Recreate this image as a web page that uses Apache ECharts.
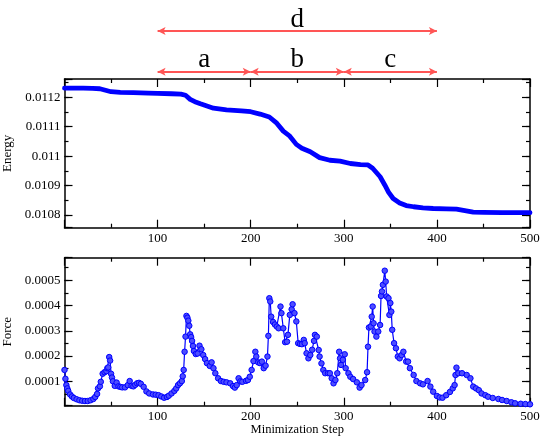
<!DOCTYPE html>
<html><head><meta charset="utf-8">
<script src="https://cdn.jsdelivr.net/npm/echarts@6/dist/echarts.min.js"></script>
<style>html,body{margin:0;padding:0;background:#fff}#c{width:541px;height:437px}</style>
</head><body><div id="c"></div>
<script>
// ---------- data ----------
const xTickLabels = [100, 200, 300, 400, 500];
const energySteps = [0,10,20,30,38,45,50,60,74,90,100,115,125,130,135,140,146,160,174,190,200,210,220,228,235,242,249,255,264,274,285,296,307,318,326,331,339,344,348,353,360,367,375,385,396,410,421,430,439,450,470,500];
const energy = [0.011231,0.011231,0.011231,0.011230,0.011229,0.011223,0.011219,0.011217,0.011216,0.011214,0.011213,0.011212,0.011211,0.011207,0.011193,0.011185,0.011178,0.011163,0.011157,0.011154,0.011151,0.011143,0.011133,0.011112,0.011085,0.011068,0.011040,0.011027,0.011015,0.010995,0.010986,0.010983,0.010975,0.010971,0.010970,0.010959,0.010930,0.010902,0.010878,0.010856,0.010841,0.010832,0.010828,0.010824,0.010822,0.010821,0.010820,0.010815,0.010810,0.010809,0.010808,0.010808];
const forceSteps = [
 0,1,2,3,4,6,8,10,13,16,
 19,22,25,28,31,33,35,36,38,39,
 41,43,45,46,47,48,49,50,51,52,
 54,56,58,60,62,65,68,70,72,74,
 76,78,80,82,85,88,91,95,98,101,
 104,107,110,112,115,118,120,122,124,126,
 127,128,129,130,131,132,133,134,135,136,
 137,138,139,141,143,145,147,149,151,153,
 156,158,160,162,165,168,171,174,178,181,
 183,185,187,189,191,195,197,199,201,203,
 205,206,208,210,212,214,216,218,219,220,
 221,222,224,226,228,230,232,233,235,237,
 239,240,242,244,245,247,249,251,253,255,
 257,258,260,262,264,266,268,269,271,273,
 274,276,278,280,283,285,287,289,291,293,
 295,296,297,299,301,302,305,307,310,314,
 317,319,323,325,326,327,329,330,331,332,
 333,335,337,339,340,341,342,344,345,346,
 348,349,350,351,352,354,356,358,360,362,
 364,367,369,371,375,378,382,385,390,393,
 396,400,403,406,410,414,417,419,420,421,
 423,427,432,436,439,442,445,448,452,455,
 460,466,470,475,480,484,490,495,500];
const force = [
 1.45e-4,1.10e-4,0.85e-4,0.72e-4,0.62e-4,0.48e-4,0.40e-4,0.34e-4,0.29e-4,0.25e-4,
 0.23e-4,0.22e-4,0.22e-4,0.25e-4,0.30e-4,0.38e-4,0.50e-4,0.72e-4,0.80e-4,0.98e-4,
 1.30e-4,1.36e-4,1.40e-4,1.52e-4,1.55e-4,1.96e-4,1.82e-4,1.30e-4,1.15e-4,1.00e-4,
 0.82e-4,0.95e-4,0.80e-4,0.78e-4,0.76e-4,0.76e-4,0.85e-4,1.01e-4,0.82e-4,0.80e-4,
 0.86e-4,0.92e-4,0.94e-4,0.90e-4,0.78e-4,0.60e-4,0.52e-4,0.48e-4,0.47e-4,0.45e-4,
 0.40e-4,0.35e-4,0.38e-4,0.43e-4,0.52e-4,0.62e-4,0.72e-4,0.85e-4,0.92e-4,1.01e-4,
 1.20e-4,1.45e-4,2.17e-4,2.77e-4,3.59e-4,3.52e-4,3.40e-4,3.20e-4,2.86e-4,2.75e-4,
 2.60e-4,2.40e-4,2.20e-4,2.08e-4,2.10e-4,2.41e-4,2.27e-4,2.04e-4,1.88e-4,1.72e-4,
 1.61e-4,1.75e-4,1.52e-4,1.32e-4,1.12e-4,1.01e-4,0.98e-4,0.96e-4,0.92e-4,0.81e-4,
 0.75e-4,0.85e-4,1.12e-4,1.00e-4,0.98e-4,1.02e-4,1.05e-4,1.18e-4,1.45e-4,1.80e-4,
 2.17e-4,1.98e-4,1.75e-4,1.72e-4,1.78e-4,1.52e-4,1.62e-4,1.98e-4,2.80e-4,4.29e-4,
 4.16e-4,3.56e-4,3.35e-4,3.25e-4,3.17e-4,3.10e-4,3.96e-4,3.70e-4,3.10e-4,2.55e-4,
 2.57e-4,2.84e-4,3.63e-4,3.85e-4,4.05e-4,3.70e-4,3.37e-4,2.51e-4,2.48e-4,2.47e-4,
 2.64e-4,2.51e-4,2.11e-4,1.91e-4,2.04e-4,2.25e-4,2.60e-4,2.84e-4,2.77e-4,2.24e-4,
 1.98e-4,1.71e-4,1.45e-4,1.32e-4,1.32e-4,1.32e-4,1.12e-4,0.92e-4,1.05e-4,1.32e-4,
 2.17e-4,1.91e-4,1.65e-4,1.85e-4,2.07e-4,1.52e-4,1.32e-4,1.18e-4,1.09e-4,0.96e-4,
 0.75e-4,0.85e-4,1.05e-4,1.36e-4,2.37e-4,3.13e-4,3.17e-4,3.56e-4,3.96e-4,3.30e-4,
 2.97e-4,2.77e-4,2.97e-4,3.23e-4,4.38e-4,4.56e-4,4.82e-4,5.38e-4,4.95e-4,4.36e-4,
 4.29e-4,3.63e-4,4.10e-4,3.76e-4,3.04e-4,2.51e-4,2.31e-4,1.98e-4,1.91e-4,2.04e-4,
 2.17e-4,1.78e-4,1.78e-4,1.52e-4,1.25e-4,1.01e-4,0.92e-4,0.88e-4,1.01e-4,0.79e-4,
 0.59e-4,0.42e-4,0.36e-4,0.35e-4,0.45e-4,0.58e-4,0.72e-4,0.85e-4,1.25e-4,1.54e-4,
 1.32e-4,1.32e-4,1.25e-4,1.12e-4,0.79e-4,0.72e-4,0.65e-4,0.52e-4,0.45e-4,0.39e-4,
 0.34e-4,0.30e-4,0.26e-4,0.22e-4,0.17e-4,0.13e-4,0.11e-4,0.10e-4,0.09e-4];
const spanLabels = ['a', 'b', 'c', 'd'];
const spanStart  = [100, 200, 300, 100];
const spanEnd    = [200, 300, 400, 400];
const spanRow    = [0, 0, 0, 1];
const energyRange = [0.0107568, 0.0112622];
const forceRange  = [0.0000034, 0.0005895];

// ---------- chart ----------
const F = 'Liberation Serif';
const BLACK = '#000';
const chart = echarts.init(document.getElementById('c'), null, {renderer: 'canvas'});

function xAx(grid, pos, labels, name) {
  return {
    type: 'value', gridIndex: grid, position: pos, min: 0, max: 500, interval: 100,
    axisLine: {show: true, onZero: false, lineStyle: {color: BLACK, width: 1.5}},
    axisTick: {show: true, inside: true, length: 8, lineStyle: {color: BLACK, width: 1.2}},
    minorTick: {show: true, splitNumber: 2, length: 4, lineStyle: {color: BLACK, width: 1.2}},
    splitLine: {show: false}, minorSplitLine: {show: false},
    axisLabel: {show: labels, margin: 4, fontFamily: F, fontSize: 13, color: BLACK,
      formatter: v => (xTickLabels.indexOf(v) >= 0 ? String(v) : '')},
    name: name || '', nameLocation: 'middle', nameGap: 17,
    nameTextStyle: {fontFamily: F, fontSize: 12.5, color: BLACK}
  };
}
function labelFmt(v) {
  const k = Math.round(v / 0.0001);
  return Math.abs(v - k * 0.0001) < 1e-9 ? String(+(k * 0.0001).toFixed(4)) : '';
}
function yAx(grid, pos, range, split, major, name, nameGap) {
  return {
    type: 'value', gridIndex: grid, position: pos, min: range[0], max: range[1], splitNumber: split,
    scale: true,
    axisLine: {show: major, onZero: false, lineStyle: {color: BLACK, width: 1.5}},
    axisTick: {show: true, inside: true, length: major ? 8 : 4, lineStyle: {color: BLACK, width: 1.2}},
    splitLine: {show: false},
    axisLabel: {show: major && pos === 'left', margin: 4, fontFamily: F, fontSize: 13, color: BLACK, formatter: labelFmt},
    name: name || '', nameLocation: 'middle', nameGap: nameGap || 0, nameRotate: 90,
    nameTextStyle: {fontFamily: F, fontSize: 13, color: BLACK}
  };
}

const option = {
  animation: false,
  backgroundColor: '#fff',
  grid: [
    {left: 64.5, right: 11, top: 79, height: 148.7, containLabel: false, outerBoundsMode: 'none'},
    {left: 64.5, right: 11, top: 257.7, height: 148, containLabel: false, outerBoundsMode: 'none'},
    {left: 64.5, right: 11, top: 31, height: 40.7, containLabel: false, outerBoundsMode: 'none'}
  ],
  xAxis: [
    xAx(0, 'bottom', true),
    xAx(0, 'top', false),
    xAx(1, 'bottom', true, 'Minimization Step'),
    xAx(1, 'top', false),
    {type: 'value', gridIndex: 2, min: 0, max: 500, show: false}
  ],
  yAxis: [
    yAx(0, 'left', energyRange, 5, true, 'Energy', 43.5),
    yAx(0, 'left', energyRange, 10, false),
    yAx(0, 'right', energyRange, 5, true),
    yAx(0, 'right', energyRange, 10, false),
    yAx(1, 'left', forceRange, 5, true, 'Force', 39.5),
    yAx(1, 'left', forceRange, 10, false),
    yAx(1, 'right', forceRange, 5, true),
    yAx(1, 'right', forceRange, 10, false),
    {type: 'value', gridIndex: 2, min: 0, max: 1, show: false}
  ],
  series: [
    {
      type: 'line', xAxisIndex: 0, yAxisIndex: 0,
      data: energySteps.map((s, i) => [s, energy[i]]),
      symbol: 'none', lineStyle: {color: '#0000ff', width: 4.8, cap: 'round', join: 'round'},
      silent: true
    },
    {
      type: 'line', xAxisIndex: 2, yAxisIndex: 4,
      data: forceSteps.map((s, i) => [s, force[i]]),
      symbol: 'circle', symbolSize: 5.5, showAllSymbol: true,
      lineStyle: {color: '#0000ff', width: 1.2},
      itemStyle: {color: '#4d4dff', borderColor: '#0000ff', borderWidth: 1},
      silent: true
    },
    {
      type: 'line', xAxisIndex: 4, yAxisIndex: 8, data: [],
      markLine: {
        silent: true, symbol: ['arrow', 'arrow'], symbolSize: [6, 8],
        lineStyle: {color: '#ff5555', width: 1.8, type: 'solid'},
        label: {show: true, position: 'insideMiddleTop', distance: -2, formatter: p => p.name,
          fontFamily: F, fontSize: 27, color: BLACK},
        emphasis: {disabled: true},
        data: spanLabels.map((l, i) => [
          {coord: [spanStart[i], spanRow[i]], name: l},
          {coord: [spanEnd[i], spanRow[i]]}
        ])
      }
    }
  ]
};
chart.setOption(option);
</script>
</body></html>
